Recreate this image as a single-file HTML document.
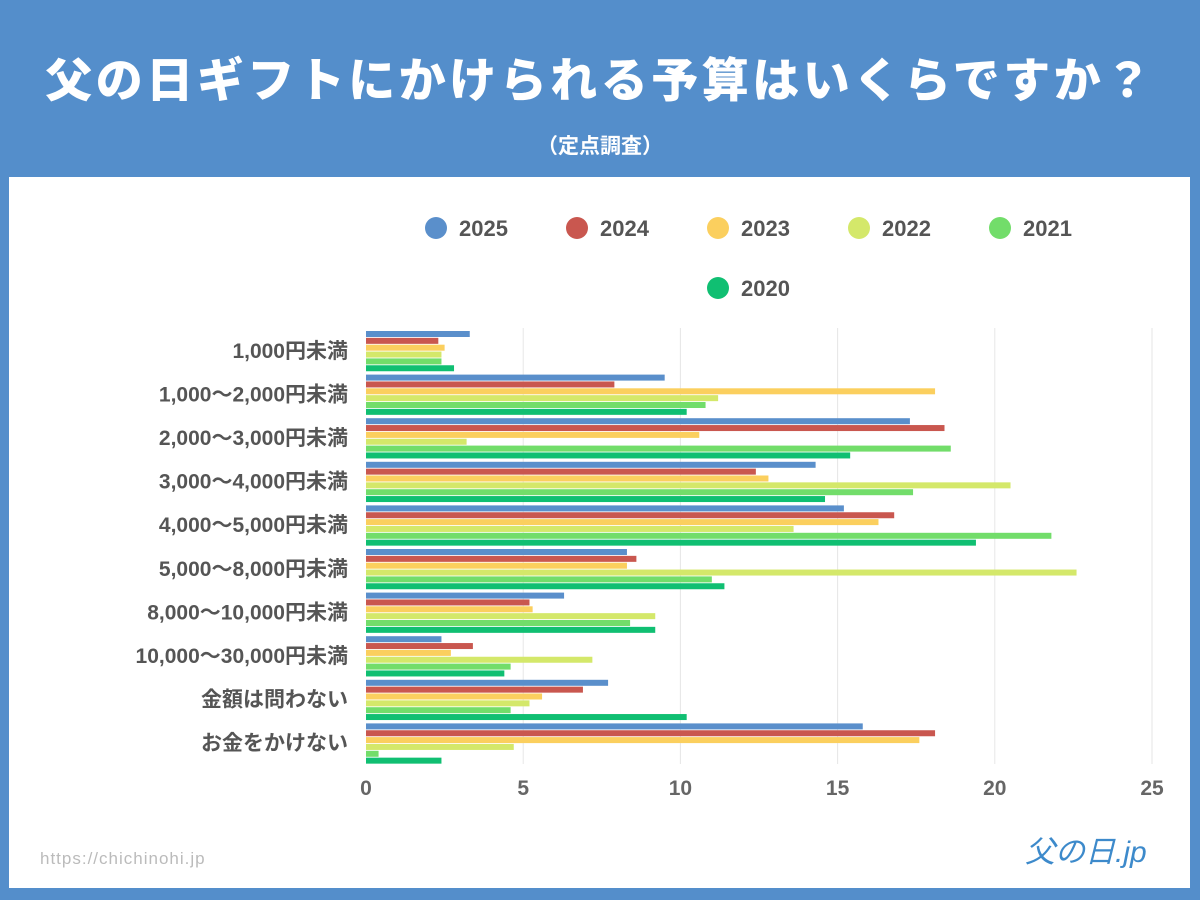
<!DOCTYPE html>
<html><head><meta charset="utf-8">
<style>
html,body{margin:0;padding:0;}
body{width:1200px;height:900px;background:#548ecb;position:relative;overflow:hidden;font-family:"Liberation Sans","Noto Sans CJK JP",sans-serif;}
#title{position:absolute;left:0;top:42px;width:1200px;text-align:center;color:#fff;font-size:47px;font-weight:900;letter-spacing:3.5px;}
#sub{position:absolute;left:0;top:130px;width:1200px;text-align:center;color:#fff;font-size:21px;font-weight:bold;}
#panel{position:absolute;left:9px;top:177px;width:1181px;height:711px;background:#fff;}
svg text{font-family:"Liberation Sans","Noto Sans CJK JP",sans-serif;}
</style></head>
<body>
<div id="title">父の日ギフトにかけられる予算はいくらですか？</div>
<div id="sub">（定点調査）</div>
<div id="panel"></div>
<svg id="chart" width="1200" height="900" style="position:absolute;left:0;top:0"></svg>
<script>
const categories=["1,000円未満","1,000〜2,000円未満","2,000〜3,000円未満","3,000〜4,000円未満","4,000〜5,000円未満","5,000〜8,000円未満","8,000〜10,000円未満","10,000〜30,000円未満","金額は問わない","お金をかけない"];
const seriesNames=["2025","2024","2023","2022","2021","2020"];
const seriesColors=["#5a8fcb","#c9574f","#fbcf5e","#d4e86a","#72dd6a","#10bf72"];
const v2025=[3.3,9.5,17.3,14.3,15.2,8.3,6.3,2.4,7.7,15.8];
const v2024=[2.3,7.9,18.4,12.4,16.8,8.6,5.2,3.4,6.9,18.1];
const v2023=[2.5,18.1,10.6,12.8,16.3,8.3,5.3,2.7,5.6,17.6];
const v2022=[2.4,11.2,3.2,20.5,13.6,22.6,9.2,7.2,5.2,4.7];
const v2021=[2.4,10.8,18.6,17.4,21.8,11.0,8.4,4.6,4.6,0.4];
const v2020=[2.8,10.2,15.4,14.6,19.4,11.4,9.2,4.4,10.2,2.4];
const ticks=[0,5,10,15,20,25];

const NS="http://www.w3.org/2000/svg";
const svg=document.getElementById('chart');
const series=[v2025,v2024,v2023,v2022,v2021,v2020];
const x0=366,x1=1152,xmax=25,yTop=328,band=43.6;
const xs=v=>x0+(x1-x0)*v/xmax;
function mk(t,a){const e=document.createElementNS(NS,t);for(const k in a)e.setAttribute(k,a[k]);svg.appendChild(e);return e;}
ticks.forEach(t=>{
  if(t>0){const g=mk('line',{x1:xs(t),x2:xs(t),y1:yTop,y2:yTop+band*10,stroke:'#e6e6e6','stroke-width':1});
  
  }
  const l=mk('text',{x:xs(t),y:795,'text-anchor':'middle','font-size':21,'font-weight':'bold',fill:'#666'});
  l.textContent=t;
  
  
});
categories.forEach((c,i)=>{
  const by=yTop+band*i;
  const l=mk('text',{x:348,y:by+band/2+8,'text-anchor':'end','font-size':21,'font-weight':'bold',fill:'#555'});
  l.textContent=c;
  
  
  series.forEach((s,j)=>{
    const r=mk('rect',{x:x0,y:by+3+j*6.85,width:Math.max(0,xs(s[i])-x0),height:6,fill:seriesColors[j]});
    
    
  });
});
const lpos=[[436,228],[577,228],[718,228],[859,228],[1000,228],[718,288]];
seriesNames.forEach((n,j)=>{
  const c=mk('circle',{cx:lpos[j][0],cy:lpos[j][1],r:11,fill:seriesColors[j]});
  
  
  const t=mk('text',{x:lpos[j][0]+23,y:lpos[j][1]+8,'font-size':22,'font-weight':'bold',fill:'#555'});
  t.textContent=n;
  
  
});
const u=mk('text',{x:40,y:864,'font-size':17,fill:'#bbb','letter-spacing':1});
u.textContent='https://chichinohi.jp';


const lg=mk('text',{x:1025,y:862,'font-size':30,fill:'#3d8acb','font-style':'italic'});
lg.textContent='父の日.jp';


</script>
</body></html>
